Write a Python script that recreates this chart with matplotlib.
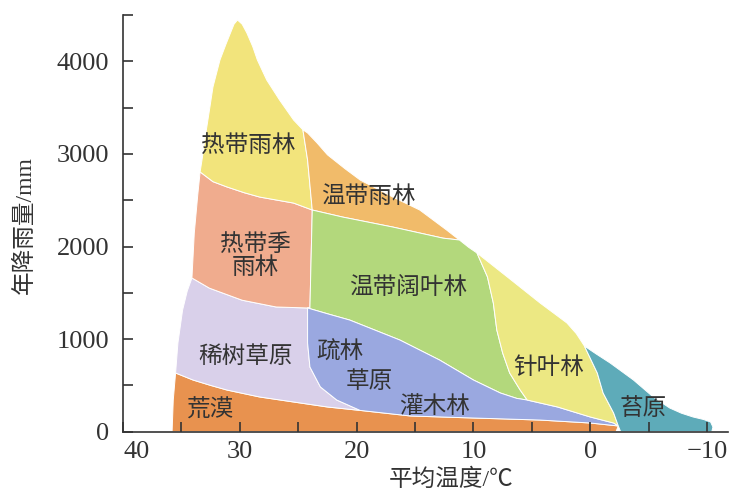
import numpy as np
import matplotlib
matplotlib.use("Agg")
import matplotlib.pyplot as plt
from matplotlib.patches import Polygon

# boundary curves, (temperature C, precipitation mm)
outer_desert = [(35.8, 0), (35.7, 340), (35.5, 634)]
outer_savanna = [(35.5, 634), (35.3, 958), (34.9, 1314), (34.5, 1520), (34.1, 1660)]
outer_seasonal = [(34.1, 1660), (33.9, 2144), (33.6, 2560), (33.4, 2805)]
outer_trf = [(33.4, 2805), (33.2, 2966), (33.0, 3150), (32.6, 3474), (32.3, 3722), (31.7, 4014),
             (31.2, 4180), (30.8, 4306), (30.5, 4400), (30.2, 4446), (29.8, 4400), (29.4, 4306),
             (28.9, 4160), (28.5, 4014), (27.7, 3798), (26.6, 3582), (25.4, 3366), (24.6, 3260)]
outer_temprf = [(24.6, 3260), (24.2, 3226), (23.4, 3120), (22.5, 2990), (21.0, 2840), (19.7, 2718),
                (18.2, 2620), (16.9, 2534), (14.6, 2394), (12.3, 2178), (11.2, 2070)]
outer_broadleaf = [(11.2, 2070), (10.4, 1990), (9.7, 1930)]
outer_boreal = [(9.7, 1930), (7.1, 1671), (4.3, 1390), (2.0, 1174), (1.2, 1060), (0.5, 925)]
outer_tundra = [(0.5, 925), (-0.5, 840), (-1.7, 742), (-3.7, 558), (-5.4, 374), (-6.8, 256),
                (-7.8, 200), (-8.8, 159), (-9.7, 132), (-10.3, 105), (-10.5, 50), (-10.4, 0)]

trf_bottom = [(33.4, 2805), (32.3, 2700), (31.1, 2643), (29.6, 2580), (28.3, 2534),
              (25.4, 2469), (23.8, 2394)]
trf_right = [(24.6, 3260), (24.2, 2934), (24.0, 2664), (23.8, 2394)]
temprf_bottom = [(23.8, 2394), (21.2, 2318), (16.9, 2210), (12.6, 2090), (11.2, 2070)]
seasonal_right = [(23.8, 2394), (24.0, 1336)]
savanna_top = [(34.1, 1660), (32.6, 1550), (29.8, 1420), (26.9, 1347), (24.2, 1336)]
savanna_right = [(24.2, 1336), (24.2, 1120), (24.2, 958), (24.0, 699), (23.1, 483),
                 (21.7, 342), (19.7, 230)]
desert_top = [(35.5, 634), (34.0, 558), (32.5, 500), (31.1, 450), (28.3, 375), (25.4, 321),
              (22.5, 267), (19.7, 230), (15.4, 170), (10.0, 148), (4.3, 126), (0.0, 94),
              (-2.4, 62)]
desert_end = [(-2.4, 62), (-2.2, 0)]
woodland_top = [(24.2, 1336), (22.4, 1270), (20.6, 1206), (16.3, 990), (12.9, 774), (10.0, 558),
                (7.7, 418), (6.3, 360), (5.4, 342)]
woodland_tail = [(5.4, 342), (2.8, 267), (0.0, 159), (-2.0, 94), (-2.4, 62)]
broadleaf_right = [(9.7, 1930), (8.8, 1671), (8.3, 1390), (8.0, 1098), (7.5, 850),
                   (6.9, 634), (6.0, 450), (5.4, 342)]
boreal_right = [(0.5, 925), (-0.6, 634), (-1.1, 418), (-2.0, 202), (-2.4, 62)]

colors = ["#e8924f", "#d9d0ea", "#f0ac8e", "#f2e47c", "#f1bb6a", "#b3d87c",
          "#9aa8e0", "#ece883", "#5eabb9"]


def rev(c):
    return c[::-1]


def poly(*parts):
    return np.concatenate([np.array(p, dtype=float) for p in parts])


shapes = [
    poly(outer_desert, desert_top, desert_end),
    poly(outer_savanna, savanna_top, savanna_right, rev(desert_top[:8])),
    poly(outer_seasonal, trf_bottom, seasonal_right, rev(savanna_top)),
    poly(outer_trf, trf_right, rev(trf_bottom)),
    poly(outer_temprf, rev(temprf_bottom), rev(trf_right)),
    poly(temprf_bottom, outer_broadleaf, broadleaf_right, rev(woodland_top), rev(seasonal_right)),
    poly(woodland_top, woodland_tail, rev(desert_top[7:]), rev(savanna_right)),
    poly(outer_boreal, boreal_right, rev(woodland_tail), rev(broadleaf_right)),
    poly(outer_tundra, [(-10.4, 0), (-2.6, 0)], rev(boreal_right)),
]

fig = plt.figure(figsize=(7.34, 4.96), dpi=100)
ax = fig.add_axes([0.1676, 0.1296, 0.8244, 0.8402])

for pts, col in zip(shapes, colors):
    ax.add_patch(Polygon(pts, closed=True, facecolor=col, edgecolor="white", lw=0.7,
                         joinstyle="round"))

cjk = ["Noto Sans CJK SC", "DejaVu Sans"]
txt = "#333333"
labels = [("热带雨林", 29.3, 3094), ("温带雨林", 19.0, 2545), ("热带季\n雨林", 28.7, 1896),
          ("温带阔叶林", 15.6, 1561), ("稀树草原", 29.5, 817), ("疏林", 21.4, 860),
          ("草原", 18.9, 546), ("灌木林", 13.3, 276), ("针叶林", 3.6, 697),
          ("苔原", -4.5, 256), ("荒漠", 32.6, 234)]
for s, tx, py in labels:
    ax.text(tx, py, s, ha="center", va="center", fontsize=17, color=txt, family=cjk,
            linespacing=1.0)

ax.set_xlim(40, -11.8)
ax.set_ylim(0, 4500)
xt = [40, 30, 20, 10, 0, -10]
ax.set_xticks(xt)
ax.set_xticklabels(["40", "30", "20", "10", "0", "\u221210"])
ax.set_xticks(np.arange(35, -11, -10), minor=True)
ax.set_yticks([0, 1000, 2000, 3000, 4000])
ax.set_yticks([500, 1500, 2500, 3500, 4500], minor=True)
for sp in ["top", "right"]:
    ax.spines[sp].set_visible(False)
for sp in ["left", "bottom"]:
    ax.spines[sp].set_color("#333333")
    ax.spines[sp].set_linewidth(1.2)
ax.tick_params(which="both", direction="in", length=7, width=1.2, color="#333333")
ax.tick_params(axis="x", pad=7)
ax.tick_params(axis="y", pad=10)
for lab in ax.get_xticklabels() + ax.get_yticklabels():
    lab.set_family("Liberation Serif")
    lab.set_fontsize(19)
    lab.set_color("#333333")
ax.get_xticklabels()[0].set_ha("left")

fig.text(0.614, 0.032, "平均温度/℃", ha="center", va="center", fontsize=17,
         color=txt, family=["Liberation Serif", "Noto Sans CJK SC"])
fig.text(0.034, 0.546, "年降雨量/mm", ha="center", va="center", rotation=90, fontsize=17,
         color=txt, family=["Liberation Serif", "Noto Sans CJK SC"])

fig.savefig("out.png", dpi=100)
